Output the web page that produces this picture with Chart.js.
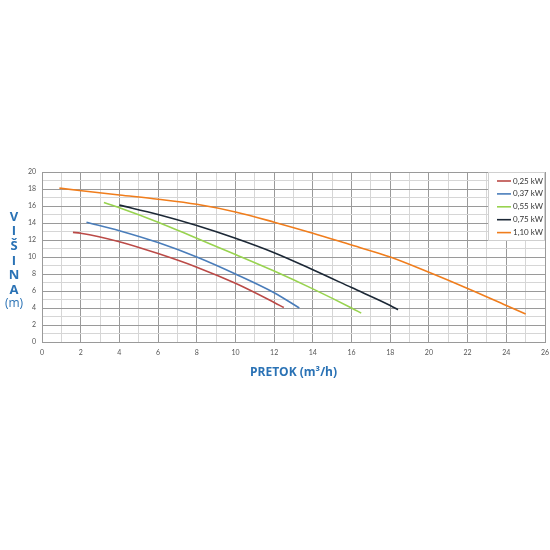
<!DOCTYPE html>
<html>
<head>
<meta charset="utf-8">
<script src="https://cdn.jsdelivr.net/npm/chart.js@4"></script>
<style>
  html, body { margin: 0; padding: 0; background: #fff; }
  #wrap { width: 550px; height: 550px; position: relative; }
</style>
</head>
<body>
<div id="wrap"><canvas id="chartPumpa"></canvas></div>
<script>
const labels = ['0,25 kW', '0,37 kW', '0,55 kW', '0,75 kW', '1,10 kW'];
const colors = ['#bb4a47', '#4a7dba', '#98d34f', '#1c2836', '#f07d1c'];

// protok (m3/h) / visina (m)
const q025 = [1.6, 2, 4, 6, 8, 10, 12, 12.5];
const h025 = [12.9, 12.8, 11.8, 10.4, 8.8, 6.9, 4.65, 4.05];
const q037 = [2.3, 4, 6, 8, 10, 12, 13.3];
const h037 = [14.1, 13.1, 11.7, 10.0, 8.0, 5.8, 4.0];
const q055 = [3.2, 4, 6, 8, 10, 12, 14, 16, 16.5];
const h055 = [16.4, 15.8, 14.1, 12.2, 10.3, 8.35, 6.25, 4.0, 3.4];
const q075 = [4, 6, 8, 10, 12, 14, 16, 18, 18.4];
const h075 = [16.1, 15.0, 13.7, 12.2, 10.5, 8.5, 6.4, 4.3, 3.8];
const q110 = [0.9, 4, 6, 8, 10, 12, 14, 16, 18, 20, 22, 24, 25];
const h110 = [18.1, 17.3, 16.8, 16.2, 15.3, 14.1, 12.8, 11.4, 10.0, 8.2, 6.3, 4.3, 3.3];

const xMax = 26;
const yMax = 20;

const series = [[q025, h025], [q037, h037], [q055, h055], [q075, h075], [q110, h110]];

const datasets = series.map((s, i) => ({
  label: labels[i],
  data: s[0].map((x, j) => ({ x: x, y: s[1][j] })),
  borderColor: colors[i],
  borderWidth: 1.6,
  pointRadius: 0,
  cubicInterpolationMode: 'monotone',
  fill: false
}));

const gridColor = ctx => (ctx.tick && ctx.tick.value % 2 === 0) ? '#9a9a9a' : '#d6d6d6';

// vertikalni naslov V I Š I N A (m)
const yTitle = {
  id: 'yTitle',
  afterDraw(chart) {
    const c = chart.ctx;
    c.save();
    c.fillStyle = '#2a72b5';
    c.textAlign = 'center';
    c.textBaseline = 'middle';
    c.font = 'bold 13px "Open Sans"';
    const letters = ['V', 'I', 'Š', 'I', 'N', 'A'];
    letters.forEach((l, i) => c.fillText(l, 14, 217 + i * 14.6));
    c.font = '12px "Open Sans"';
    c.fillText('(m)', 14, 304);
    c.restore();
  }
};

// legenda u desnom gornjem kutu
const boxLegend = {
  id: 'boxLegend',
  afterDraw(chart) {
    const c = chart.ctx;
    const a = chart.chartArea;
    const x0 = a.right - 57, y0 = a.top;
    c.save();
    c.fillStyle = '#fff';
    c.fillRect(x0, y0 + 0.5, a.right - x0 - 0.5, 68);
    c.strokeStyle = '#d0d0d0';
    c.lineWidth = 1;
    c.strokeRect(x0 + 0.5, y0 + 0.5, a.right - x0 - 1, 68);
    c.font = '8px Lato';
    c.textBaseline = 'middle';
    chart.data.datasets.forEach((ds, i) => {
      const y = y0 + 9 + i * 12.9;
      c.strokeStyle = ds.borderColor;
      c.lineWidth = 1.6;
      c.beginPath();
      c.moveTo(x0 + 9, y);
      c.lineTo(x0 + 23, y);
      c.stroke();
      c.fillStyle = '#333';
      c.fillText(ds.label, x0 + 25, y);
    });
    c.restore();
  }
};

new Chart(document.getElementById('chartPumpa'), {
  type: 'line',
  data: { datasets: datasets },
  plugins: [yTitle, boxLegend],
  options: {
    responsive: true,
    maintainAspectRatio: false,
    animation: false,
    layout: { padding: { top: 172, bottom: 170, left: 0, right: 5 } },
    plugins: { legend: { display: false }, tooltip: { enabled: false } },
    scales: {
      x: {
        type: 'linear',
        min: 0,
        max: xMax,
        border: { color: '#9a9a9a' },
        grid: { color: gridColor, drawTicks: false },
        ticks: {
          stepSize: 1,
          autoSkip: false,
          maxRotation: 0,
          padding: 7,
          color: '#555',
          font: { size: 7, family: 'Lato' },
          callback: v => (v % 2 === 0 ? v : '')
        },
        title: {
          display: true,
          text: 'PRETOK (m³/h)',
          color: '#2a72b5',
          font: { size: 12, weight: 'bold', family: 'Open Sans' },
          padding: { top: 4, bottom: 0 }
        },
        afterFit: s => { s.height = 38; s.paddingLeft = 0; s.paddingRight = 0; }
      },
      y: {
        min: 0,
        max: yMax,
        border: { color: '#9a9a9a' },
        grid: { color: gridColor, drawTicks: false },
        ticks: {
          stepSize: 1,
          autoSkip: false,
          padding: 6,
          color: '#555',
          font: { size: 7, family: 'Lato' },
          callback: v => (v % 2 === 0 ? v : '')
        },
        afterFit: s => { s.width = 42; s.paddingTop = 0; s.paddingBottom = 0; }
      }
    }
  }
});
</script>
</body>
</html>
